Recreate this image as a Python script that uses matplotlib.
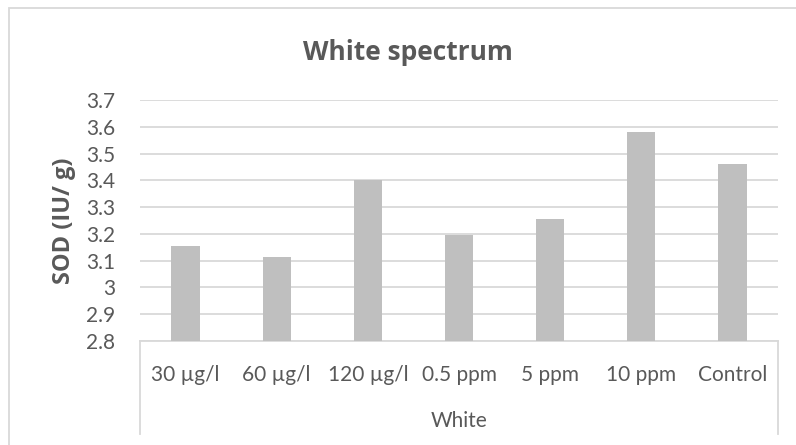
import matplotlib
matplotlib.use("Agg")
import matplotlib.pyplot as plt
from matplotlib.patches import Rectangle

categories = ["30 µg/l", "60 µg/l", "120 µg/l", "0.5 ppm", "5 ppm", "10 ppm", "Control"]
sod_values = [3.155, 3.115, 3.40, 3.195, 3.255, 3.58, 3.46]
y_ticks = [2.8, 2.9, 3.0, 3.1, 3.2, 3.3, 3.4, 3.5, 3.6, 3.7]
y_tick_labels = ["2.8", "2.9", "3", "3.1", "3.2", "3.3", "3.4", "3.5", "3.6", "3.7"]
group_label = "White"
title = "White spectrum"
y_label = "SOD (IU/ g)"

W, H = 796, 445
text_color = "#595959"
grid_color = "#D9D9D9"
bar_color = "#BFBFBF"
tick_font = "Lato"
bold_font = "Open Sans"
tick_size = 15

fig = plt.figure(figsize=(W / 100, H / 100), dpi=100)
fig.patch.set_facecolor("white")

# plot area in pixel terms
left, right, top, bottom = 140, 778, 100, 341
ax = fig.add_axes([left / W, 1 - bottom / H, (right - left) / W, (bottom - top) / H])

x = list(range(len(categories)))
ax.bar(x, sod_values, width=0.31, color=bar_color, zorder=3)

ax.set_xlim(-0.5, len(categories) - 0.5)
ax.set_ylim(2.8, 3.7)
ax.set_yticks(y_ticks)
ax.set_yticklabels(y_tick_labels, fontfamily=tick_font, fontsize=tick_size, color=text_color)
ax.yaxis.grid(True, color=grid_color, linewidth=1.3, zorder=0)
ax.tick_params(axis="y", length=0, pad=18)

ax.set_xticks(x)
ax.set_xticklabels(categories, fontfamily=tick_font, fontsize=tick_size, color=text_color)
ax.tick_params(axis="x", length=0, pad=17)

for side in ("left", "right", "top"):
    ax.spines[side].set_visible(False)
ax.spines["bottom"].set_color(grid_color)
ax.spines["bottom"].set_linewidth(1.3)

# outer borders of the category label box
drop = (434 - bottom) / (bottom - top)
for xa in (0, 1):
    ax.plot([xa, xa], [0, -drop], transform=ax.transAxes, color=grid_color,
            linewidth=1.3, clip_on=False, zorder=1)

ax.set_xlabel(group_label, fontfamily=tick_font, fontsize=tick_size, color=text_color, labelpad=19)

fig.text(64 / W, 1 - 221 / H, y_label, rotation=90, ha="center", va="center",
         fontfamily=bold_font, fontweight="bold", fontsize=17, color=text_color)

fig.text(408 / W, 1 - 53 / H, title, ha="center", va="center", fontfamily=bold_font,
         fontweight="bold", fontsize=19, color=text_color)

# chart area border
fig.patches.append(Rectangle((9 / W, -0.1), 1.0, 1 - 8 / H + 0.1, transform=fig.transFigure,
                             fill=False, edgecolor=grid_color, linewidth=1.3))

fig.savefig("out.png", dpi=100)
